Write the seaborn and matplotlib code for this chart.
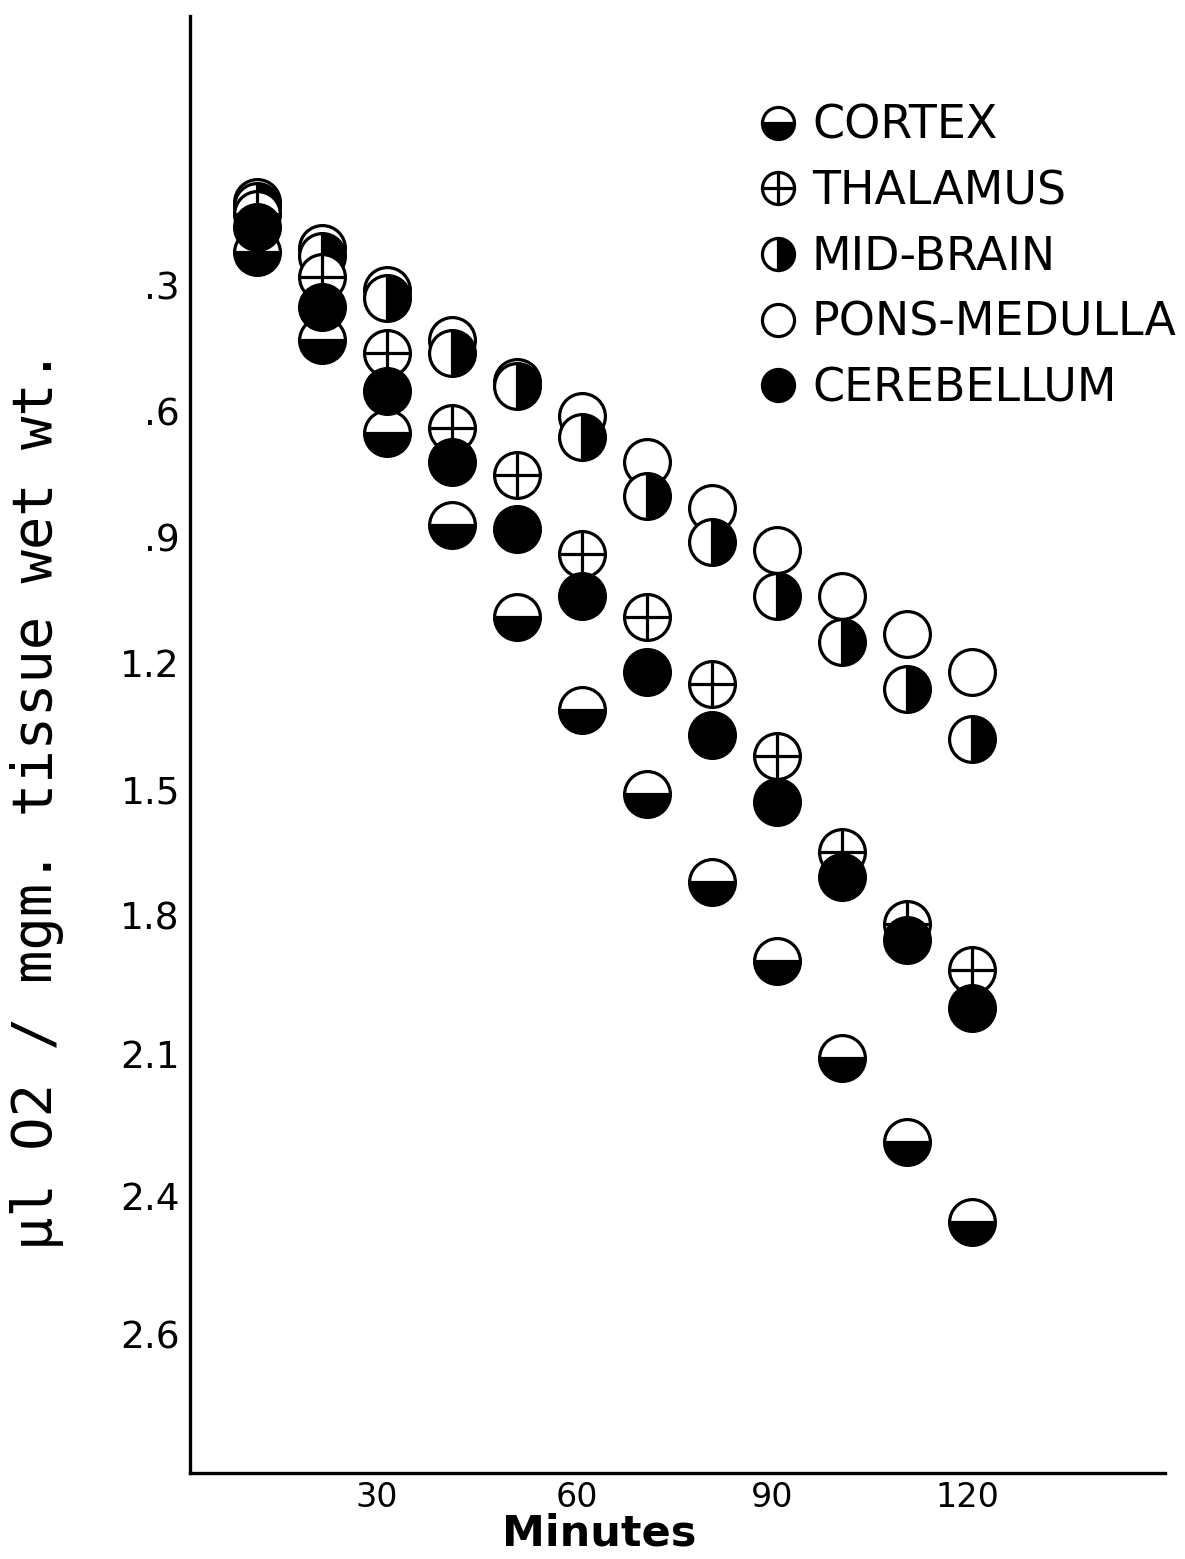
import matplotlib
matplotlib.use("Agg")
import matplotlib.pyplot as plt
import seaborn as sns
import pandas as pd

# ---- data ----
minutes = [10, 20, 30, 40, 50, 60, 70, 80, 90, 100, 110, 120]
pons_medulla = [0.10, 0.21, 0.31, 0.43, 0.53, 0.61, 0.72, 0.83, 0.93, 1.04, 1.13, 1.22]
mid_brain = [0.11, 0.23, 0.33, 0.46, 0.54, 0.66, 0.80, 0.91, 1.04, 1.15, 1.26, 1.38]
thalamus = [0.13, 0.28, 0.46, 0.64, 0.75, 0.94, 1.09, 1.25, 1.42, 1.65, 1.82, 1.93]
cortex = [0.22, 0.43, 0.65, 0.87, 1.09, 1.31, 1.51, 1.72, 1.91, 2.14, 2.34, 2.53]
cerebellum = [0.16, 0.35, 0.55, 0.72, 0.88, 1.04, 1.22, 1.37, 1.53, 1.71, 1.86, 2.02]

x_ticks = [28.5, 59.2, 89.3, 119.3]
x_tick_labels = ["30", "60", "90", "120"]
y_ticks = [0.3, 0.6, 0.9, 1.2, 1.5, 1.8, 2.13, 2.47, 2.80]
y_tick_labels = [".3", ".6", ".9", "1.2", "1.5", "1.8", "2.1", "2.4", "2.6"]

sns.set_theme(style="white")
plt.rcParams["font.family"] = ["DejaVu Sans"]
plt.rcParams["text.color"] = "black"

fig = plt.figure(figsize=(11.85, 15.59), dpi=100)
ax = fig.add_axes([0.160, 0.0552, 0.823, 0.9346])

MS = 33
MEW = 2.3
common = dict(ax=ax, marker="o", linestyle="", markersize=MS, markeredgewidth=MEW,
              markeredgecolor="black", color="black", errorbar=None, sort=False,
              estimator=None, legend=False)

df = pd.DataFrame({"Minutes": minutes, "pons": pons_medulla, "mid": mid_brain,
                   "thal": thalamus, "cortex": cortex, "cereb": cerebellum})

sns.lineplot(data=df, x="Minutes", y="pons", markerfacecolor="white", **common)
l_pons = ax.get_lines()[-1]
sns.lineplot(data=df, x="Minutes", y="mid", fillstyle="right", markerfacecolor="black",
             markerfacecoloralt="white", **common)
l_mid = ax.get_lines()[-1]
sns.lineplot(data=df, x="Minutes", y="thal", markerfacecolor="white", **common)
l_thal_c = ax.get_lines()[-1]
plus_kw = dict(common)
plus_kw["marker"] = "+"
plus_kw["markersize"] = MS + 1
sns.lineplot(data=df, x="Minutes", y="thal", **plus_kw)
l_thal_p = ax.get_lines()[-1]
sns.lineplot(data=df, x="Minutes", y="cortex", fillstyle="bottom", markerfacecolor="black",
             markerfacecoloralt="white", **common)
l_cortex = ax.get_lines()[-1]
sns.lineplot(data=df, x="Minutes", y="cereb", markerfacecolor="black", **common)
l_cereb = ax.get_lines()[-1]

ax.set_xlim(-0.3, 149.6)
ax.set_ylim(3.129, -0.343)

ax.set_xticks(x_ticks)
ax.set_xticklabels(x_tick_labels)
ax.set_yticks(y_ticks)
ax.set_yticklabels(y_tick_labels)
ax.tick_params(axis="both", length=0, colors="black")
ax.tick_params(axis="x", pad=6, labelsize=24)
ax.tick_params(axis="y", pad=7, labelsize=27)

for side in ["top", "right"]:
    ax.spines[side].set_visible(False)
for side in ["left", "bottom"]:
    ax.spines[side].set_color("black")
    ax.spines[side].set_linewidth(2.4)

ax.set_xlabel("Minutes", fontsize=31, fontweight="bold", color="black")
ax.xaxis.set_label_coords(0.4195, -0.027)
ax.set_ylabel("µl O2 / mgm. tissue wet wt.", fontsize=40, color="black",
              family="DejaVu Sans Mono")
ax.yaxis.set_label_coords(-0.129, 0.462)

handles = [l_cortex, (l_thal_c, l_thal_p), l_mid, l_pons, l_cereb]
labels = ["CORTEX", "THALAMUS", "MID-BRAIN", "PONS-MEDULLA", "CEREBELLUM"]
leg = ax.legend(handles, labels, loc="upper left", bbox_to_anchor=(0.6426, 0.9335),
                bbox_transform=fig.transFigure, frameon=False, fontsize=33,
                markerscale=0.7, handlelength=0.7, handletextpad=0.4,
                labelspacing=0.45, borderpad=0, borderaxespad=0, labelcolor="black")

fig.savefig("out.png", dpi=100)
